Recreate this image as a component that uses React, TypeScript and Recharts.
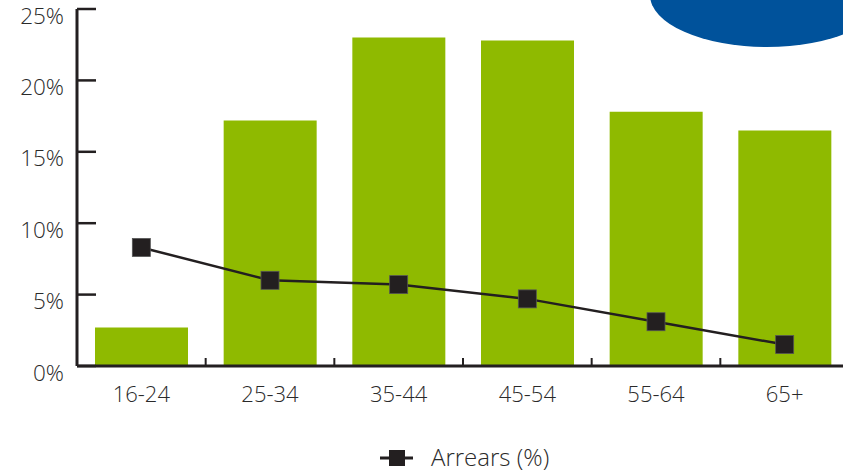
import React from "react"
import { Bar, ComposedChart, Customized, Legend, Line, XAxis, YAxis } from "recharts"

const ageGroups = ["16-24", "25-34", "35-44", "45-54", "55-64", "65+"]
const shareOfBorrowers = [2.7, 17.2, 23.0, 22.8, 17.8, 16.5]
const arrearsRate = [8.3, 6.0, 5.7, 4.7, 3.1, 1.5]
const yTicks = [0, 5, 10, 15, 20, 25]

const data = ageGroups.map((name, i) => ({
  name,
  share: shareOfBorrowers[i],
  arrears: arrearsRate[i],
}))

const INK = "#231f20"
const TEXT = "#2a2a2a"
const FONT = "'Open Sans', sans-serif"
const AXIS_X = 77

function YTick(props: any) {
  const { y, payload } = props
  return (
    <g>
      <line x1={AXIS_X} x2={AXIS_X + 19} y1={y} y2={y} stroke={INK} strokeWidth={2.5} />
      <text x={64} y={y + 6} textAnchor="end" dominantBaseline="central" fill={TEXT} fontSize={22.5} fontWeight={300} fontFamily={FONT}>
        {`${payload.value}%`}
      </text>
    </g>
  )
}

function XTick(props: any) {
  const { x, y, payload, index } = props
  const half = payload.offset ?? 64.3
  return (
    <g>
      {index > 0 && <line x1={x - half} x2={x - half} y1={y - 8} y2={y} stroke={INK} strokeWidth={2} />}
      <text x={x} y={y + 36} textAnchor="middle" fill={TEXT} fontSize={22} fontWeight={300} fontFamily={FONT}>
        {payload.value}
      </text>
    </g>
  )
}

function SquareDot(props: any) {
  const { cx, cy } = props
  if (cx == null || cy == null) return null
  return <rect x={cx - 9} y={cy - 9} width={18} height={18} fill={INK} stroke="#555" strokeWidth={0.8} />
}

function LegendContent() {
  return (
    <div style={{ position: "relative", height: 40, fontFamily: FONT, fontSize: 24, fontWeight: 300, color: TEXT }}>
      <svg width={34} height={20} style={{ position: "absolute", left: 380, top: 16 }}>
        <line x1={0} x2={33} y1={10} y2={10} stroke={INK} strokeWidth={3} />
        <rect x={9} y={2} width={16} height={16} fill={INK} />
      </svg>
      <span style={{ position: "absolute", left: 431, top: 10, lineHeight: "30px", whiteSpace: "nowrap" }}>Arrears (%)</span>
    </div>
  )
}

function Blob() {
  return <ellipse cx={767} cy={-5} rx={117} ry={52} fill="#00529b" />
}

export default function App() {
  return (
    <div style={{ position: "absolute", left: 0, top: 0, width: 843, height: 472, overflow: "hidden", background: "#fff" }}>
      <ComposedChart width={860} height={472} data={data} margin={{ top: 9, right: 11, left: 0, bottom: 0 }}>
        <Customized component={Blob} />
        <XAxis
          dataKey="name"
          height={66}
          tickLine={false}
          tickSize={0}
          tickMargin={0}
          axisLine={{ stroke: INK, strokeWidth: 3 }}
          tick={<XTick />}
          interval={0}
        />
        <YAxis
          width={AXIS_X}
          domain={[0, 25]}
          ticks={yTicks}
          tickLine={false}
          tickSize={0}
          axisLine={{ stroke: INK, strokeWidth: 3 }}
          tick={<YTick />}
        />
        <Bar dataKey="share" fill="#8fba00" barSize={93} isAnimationActive={false} legendType="none" />
        <Line
          dataKey="arrears"
          stroke={INK}
          strokeWidth={2.5}
          dot={<SquareDot />}
          activeDot={false}
          isAnimationActive={false}
        />
        <Legend verticalAlign="bottom" wrapperStyle={{ left: 0, width: 860 }} content={<LegendContent />} />
      </ComposedChart>
    </div>
  )
}
